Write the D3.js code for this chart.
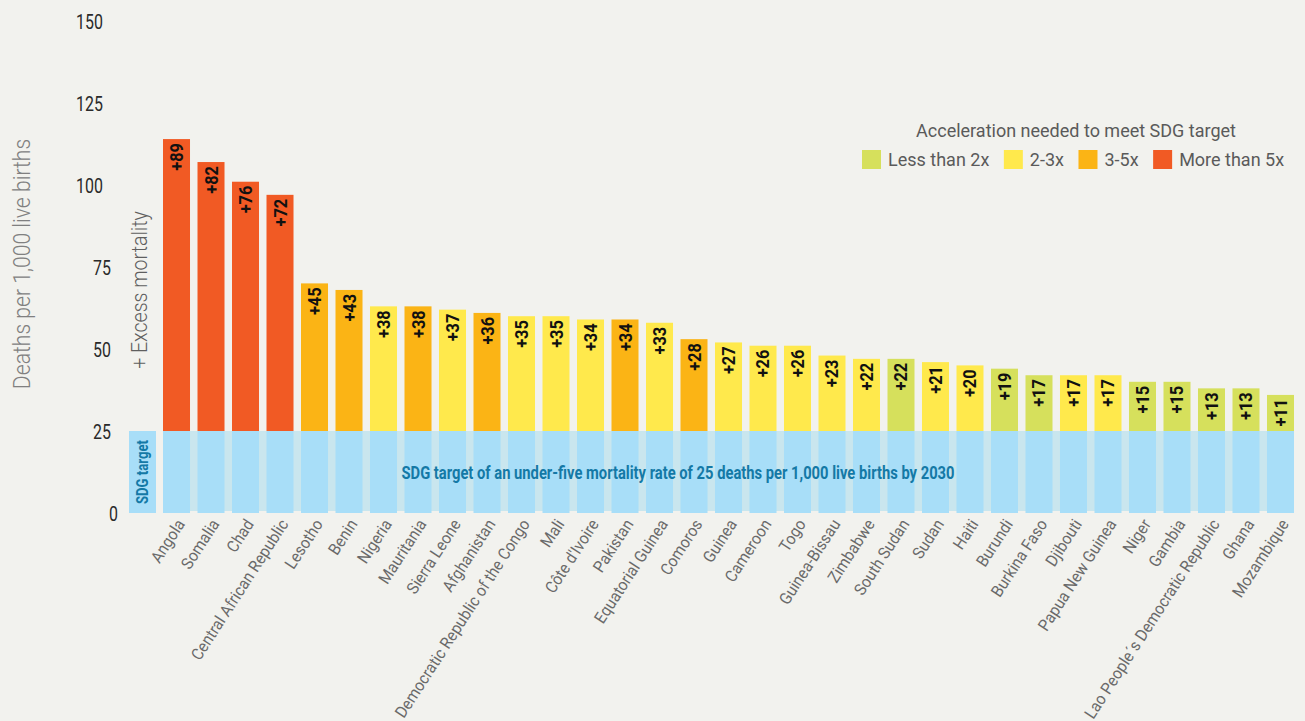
<!DOCTYPE html>
<html>
<head>
<meta charset="utf-8">
<script src="https://cdn.jsdelivr.net/npm/d3@7"></script>
<style>
  html, body { margin: 0; padding: 0; background: #f2f2ee; }
  svg { display: block; }
</style>
</head>
<body>
<div id="chart"></div>
<script>
// Under-five mortality in 2030 projections: SDG target (25) plus excess deaths per 1,000 live births
const countries = [
  "Angola", "Somalia", "Chad", "Central African Republic", "Lesotho", "Benin",
  "Nigeria", "Mauritania", "Sierra Leone", "Afghanistan",
  "Democratic Republic of the Congo", "Mali", "Côte d'Ivoire", "Pakistan",
  "Equatorial Guinea", "Comoros", "Guinea", "Cameroon", "Togo", "Guinea-Bissau",
  "Zimbabwe", "South Sudan", "Sudan", "Haiti", "Burundi", "Burkina Faso",
  "Djibouti", "Papua New Guinea", "Niger", "Gambia",
  "Lao People´s Democratic Republic", "Ghana", "Mozambique"
];
const excess = [
  89, 82, 76, 72, 45, 43, 38, 38, 37, 36, 35, 35, 34, 34, 33, 28, 27, 26, 26, 23,
  22, 22, 21, 20, 19, 17, 17, 17, 15, 15, 13, 13, 11
];
const acceleration = [
  "5+", "5+", "5+", "5+", "3-5", "3-5", "2-3", "3-5", "2-3", "3-5",
  "2-3", "2-3", "2-3", "3-5", "2-3", "3-5", "2-3", "2-3", "2-3", "2-3",
  "2-3", "<2", "2-3", "2-3", "<2", "<2", "2-3", "2-3", "<2", "<2",
  "<2", "<2", "<2"
];
const sdgTarget = 25;
const yTicks = [0, 25, 50, 75, 100, 125, 150];
const legendKeys = ["<2", "2-3", "3-5", "5+"];
const legendLabels = ["Less than 2x", "2-3x", "3-5x", "More than 5x"];
const legendTitle = "Acceleration needed to meet SDG target";

const rows = countries.map((c, i) => ({
  country: c, excess: excess[i], accel: acceleration[i], total: sdgTarget + excess[i]
}));

const W = 1305, H = 721;
const BG = "#f2f2ee";
const color = d3.scaleOrdinal()
  .domain(legendKeys)
  .range(["#d6e05c", "#ffe94c", "#fbb415", "#f15a24"]);
const SKY = "#a8def8", SKY_BAND = "#c9e6ee", DEEP_BLUE = "#1479a6";
const FONT = "Roboto, 'Liberation Sans', sans-serif";

const svg = d3.select("#chart").append("svg")
  .attr("width", W).attr("height", H)
  .style("font-family", FONT);
svg.append("rect").attr("width", W).attr("height", H).attr("fill", BG);

const y = d3.scaleLinear().domain([0, 150]).range([513, 21]);
const x = d3.scaleBand().domain(countries)
  .range([159.25, 1297.75]).paddingInner(0.217).paddingOuter(0.1087);

// condensed text helper: horizontal squeeze along the text direction
function label(parent, o) {
  return parent.append("text")
    .attr("transform", `translate(${o.x},${o.y}) rotate(${o.rot || 0}) scale(${o.sx || 1},1)`)
    .attr("text-anchor", o.anchor || "start")
    .attr("font-size", o.size)
    .attr("font-weight", o.weight || 400)
    .attr("fill", o.fill || "#333")
    .text(o.text);
}

// band behind the target zone
const first = x(countries[0]), last = x(countries[countries.length - 1]) + x.bandwidth();
svg.append("rect")
  .attr("x", first).attr("width", last - first)
  .attr("y", y(sdgTarget)).attr("height", y(0) - y(sdgTarget) - 2)
  .attr("fill", SKY_BAND);

// target part of each bar
svg.append("g").selectAll("rect").data(rows).join("rect")
  .attr("x", d => x(d.country)).attr("width", x.bandwidth())
  .attr("y", y(sdgTarget)).attr("height", y(0) - y(sdgTarget))
  .attr("fill", SKY);

// excess part of each bar
svg.append("g").selectAll("rect").data(rows).join("rect")
  .attr("x", d => x(d.country)).attr("width", x.bandwidth())
  .attr("y", d => y(d.total)).attr("height", d => y(sdgTarget) - y(d.total))
  .attr("fill", d => color(d.accel));

// excess value labels
const vl = svg.append("g");
rows.forEach(d => {
  label(vl, {
    x: x(d.country) + x.bandwidth() / 2 + 6.5, y: y(d.total) + 4, rot: -90, sx: 0.86,
    anchor: "end", size: 19, weight: 700, fill: "#111", text: "+" + d.excess
  });
});

// SDG target tag at the left of the target zone
svg.append("rect")
  .attr("x", 129).attr("width", 27)
  .attr("y", y(sdgTarget)).attr("height", y(0) - y(sdgTarget))
  .attr("fill", SKY);
label(svg, {
  x: 148, y: (y(0) + y(sdgTarget)) / 2, rot: -90, sx: 0.82, anchor: "middle",
  size: 16, weight: 700, fill: DEEP_BLUE, text: "SDG target"
});

// target sentence across the band
label(svg, {
  x: 678, y: 479, sx: 0.82, anchor: "middle", size: 18, weight: 700, fill: DEEP_BLUE,
  text: "SDG target of an under-five mortality rate of 25 deaths per 1,000 live births by 2030"
});

// y axis
const yAxis = svg.append("g")
  .call(d3.axisLeft(y).tickValues(yTicks).tickSize(0).tickPadding(0));
yAxis.select(".domain").remove();
const tickEnd = { 1: 118, 2: 111, 3: 103 };
yAxis.selectAll(".tick text")
  .attr("x", null).attr("dy", "0.36em")
  .attr("transform", d => `translate(${tickEnd[String(d).length]},0) scale(0.76,1)`)
  .attr("text-anchor", "end")
  .attr("font-size", 21).attr("font-family", FONT)
  .attr("fill", "#2a2a2a");

// axis titles
label(svg, {
  x: 29.5, y: 264, rot: -90, sx: 0.9, anchor: "middle", size: 23.5, weight: 300,
  fill: "#808080", text: "Deaths per 1,000 live births"
});
label(svg, {
  x: 147, y: 290, rot: -90, sx: 0.87, anchor: "middle", size: 22.5, weight: 300,
  fill: "#5f5f5f", text: "+ Excess mortality"
});

// country labels
const cl = svg.append("g");
rows.forEach(d => {
  label(cl, {
    x: x(d.country) + x.bandwidth() / 2 + 9, y: 524, rot: -57, sx: 0.93,
    anchor: "end", size: 16.5, weight: 400, fill: "#6a6a6a", text: d.country
  });
});

// legend
const lg = svg.append("g");
label(lg, { x: 1076, y: 137, anchor: "middle", size: 18, fill: "#5a5a5a", text: legendTitle });
let lx = 862;
legendKeys.forEach((k, i) => {
  lg.append("rect").attr("x", lx).attr("y", 150).attr("width", 19).attr("height", 19)
    .attr("fill", color(k));
  const t = label(lg, { x: lx + 26, y: 166, size: 18, fill: "#5a5a5a", text: legendLabels[i] });
  lx += 26 + t.node().getComputedTextLength() + 14.5;
});
</script>
</body>
</html>
